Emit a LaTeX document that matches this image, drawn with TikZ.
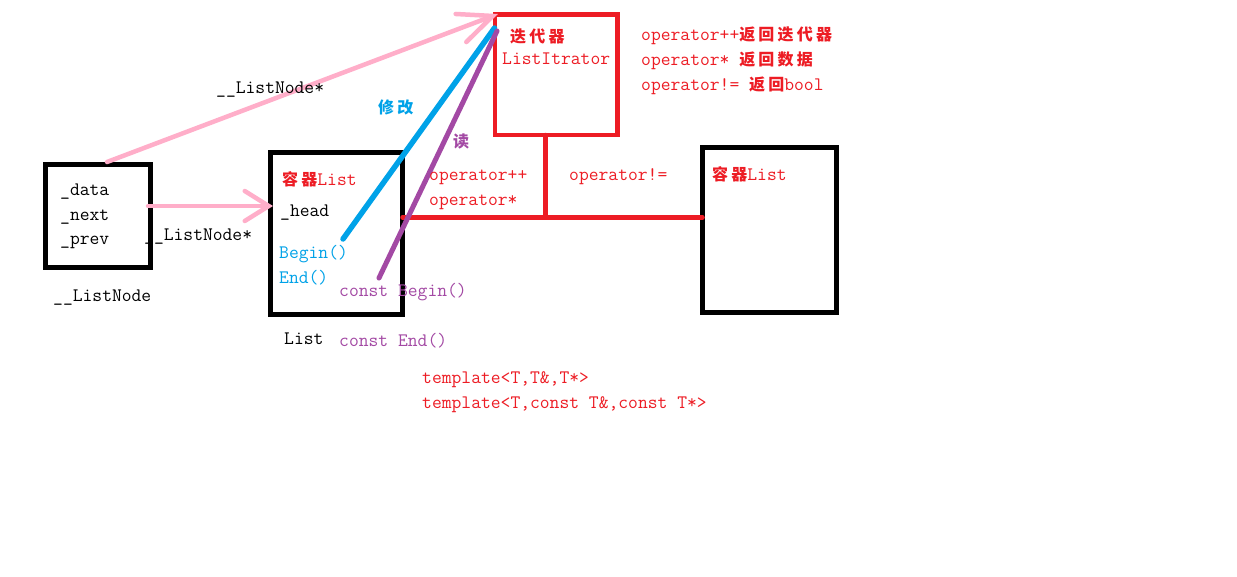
\documentclass[tikz,border=0pt]{standalone}
\usepackage{fontspec}
\newfontfamily\cjk[LetterSpace=20]{Noto Sans CJK SC}
\usetikzlibrary{arrows.meta}
\definecolor{pred}{HTML}{ED1C24}
\definecolor{ppink}{HTML}{FFAEC9}
\definecolor{pblue}{HTML}{00A2E8}
\definecolor{ppurple}{HTML}{A349A4}
\newcommand{\zh}[1]{{\cjk\bfseries\fontsize{16}{20}\selectfont #1}}
\begin{document}
\begin{tikzpicture}[x=1pt,y=-1pt,
  box/.style={draw=black, line width=5pt, inner sep=0pt, outer sep=0pt},
  redbox/.style={draw=pred, line width=4.5pt, inner sep=0pt, outer sep=0pt},
  txt/.style={anchor=base west, inner sep=0pt, font=\ttfamily\fontsize{19.05}{20}\selectfont},
  redl/.style={draw=pred, line width=4.5pt, line cap=round},
  pinkarrow/.style={draw=ppink, line width=4.5pt, line cap=round},
  blueline/.style={draw=pblue, line width=5.5pt, line cap=round},
  purpleline/.style={draw=ppurple, line width=5pt, line cap=round}]
\path[use as bounding box, fill=white] (0,0) rectangle (1237,576);

% boxes
\node[box, minimum width=104.5pt, minimum height=103pt] (ln) at (97.75,216) {};
\node[box, minimum width=132pt, minimum height=162pt] (lst) at (336.5,233.5) {};
\node[redbox, minimum width=122.5pt, minimum height=120.5pt] (it) at (556,74.75) {};
\node[box, minimum width=134pt, minimum height=165pt] (rb) at (769.5,230) {};

% red connectors
\coordinate (j) at (545.5,217.5);
\draw[redl] (it.south -| j) -- (j);
\draw[redl] (lst.east |- j) -- (rb.west |- j);

% blue and purple lines
\coordinate (bs) at (343,239);
\coordinate (be) at (494.5,28);
\coordinate (us) at (379,278);
\coordinate (ue) at (497,31);
\draw[blueline] (bs) -- (be);
\draw[purpleline] (us) -- (ue);

% pink arrows
\coordinate (a1s) at (107,162);
\coordinate (a1e) at (498,14);
\coordinate (a2s) at (148,206);
\coordinate (a2e) at (273,206);
\draw[pinkarrow, -{Straight Barb[length=34pt,width=30pt,line cap=round]}] (a1s) -- (a1e);
\draw[pinkarrow, -{Straight Barb[length=24pt,width=30pt,line cap=round]}] (a2s) -- (a2e);

% texts: ListNode box
\node[txt] (tdata) at (60,195) {\_data};
\node[txt] (tnext) at (60,220) {\_next};
\node[txt] (tprev) at (60,244) {\_prev};
\node[txt] (tln) at (53,301) {\_\_ListNode};
\node[txt] (tlnp1) at (216,93) {\_\_ListNode*};
\node[txt] (tlnp2) at (144,240) {\_\_ListNode*};

% List box
\node[txt, text=pred] (tcl) at (282,185) {\zh{容器}List};
\node[txt] (thead) at (280,216) {\_head};
\node[txt, text=pblue] (tbeg) at (279,258) {Begin()};
\node[txt, text=pblue] (tend) at (279,283) {End()};
\node[txt] (tlist) at (284,344) {List};
\node[txt, text=ppurple] (tcb) at (339,296) {const Begin()};
\node[txt, text=ppurple] (tce) at (339,346) {const End()};

% labels on lines
\node[txt, text=pblue] (txg) at (378,113) {\zh{修改}};
\node[txt, text=ppurple] (tdu) at (453,147) {\zh{读}};

% iterator
\node[txt, text=pred] (tdd) at (510,42) {\zh{迭代器}};
\node[txt, text=pred] (tli) at (502,64) {ListItrator};
\node[txt, text=pred] (top1) at (641,40) {operator++\zh{返回迭代器}};
\node[txt, text=pred] (top2) at (641,65) {operator* \zh{返回数据}};
\node[txt, text=pred] (top3) at (641,90) {operator!= \zh{返回}bool};

% middle
\node[txt, text=pred] (tpp) at (429,180) {operator++};
\node[txt, text=pred] (tst) at (429,205) {operator*};
\node[txt, text=pred] (tne) at (569,180) {operator!=};
\node[txt, text=pred] (tcl2) at (712,180) {\zh{容器}List};

% templates
\node[txt, text=pred] (tt1) at (422,383) {template<T,T\&,T*>};
\node[txt, text=pred] (tt2) at (422,408) {template<T,const T\&,const T*>};
\end{tikzpicture}
\end{document}
